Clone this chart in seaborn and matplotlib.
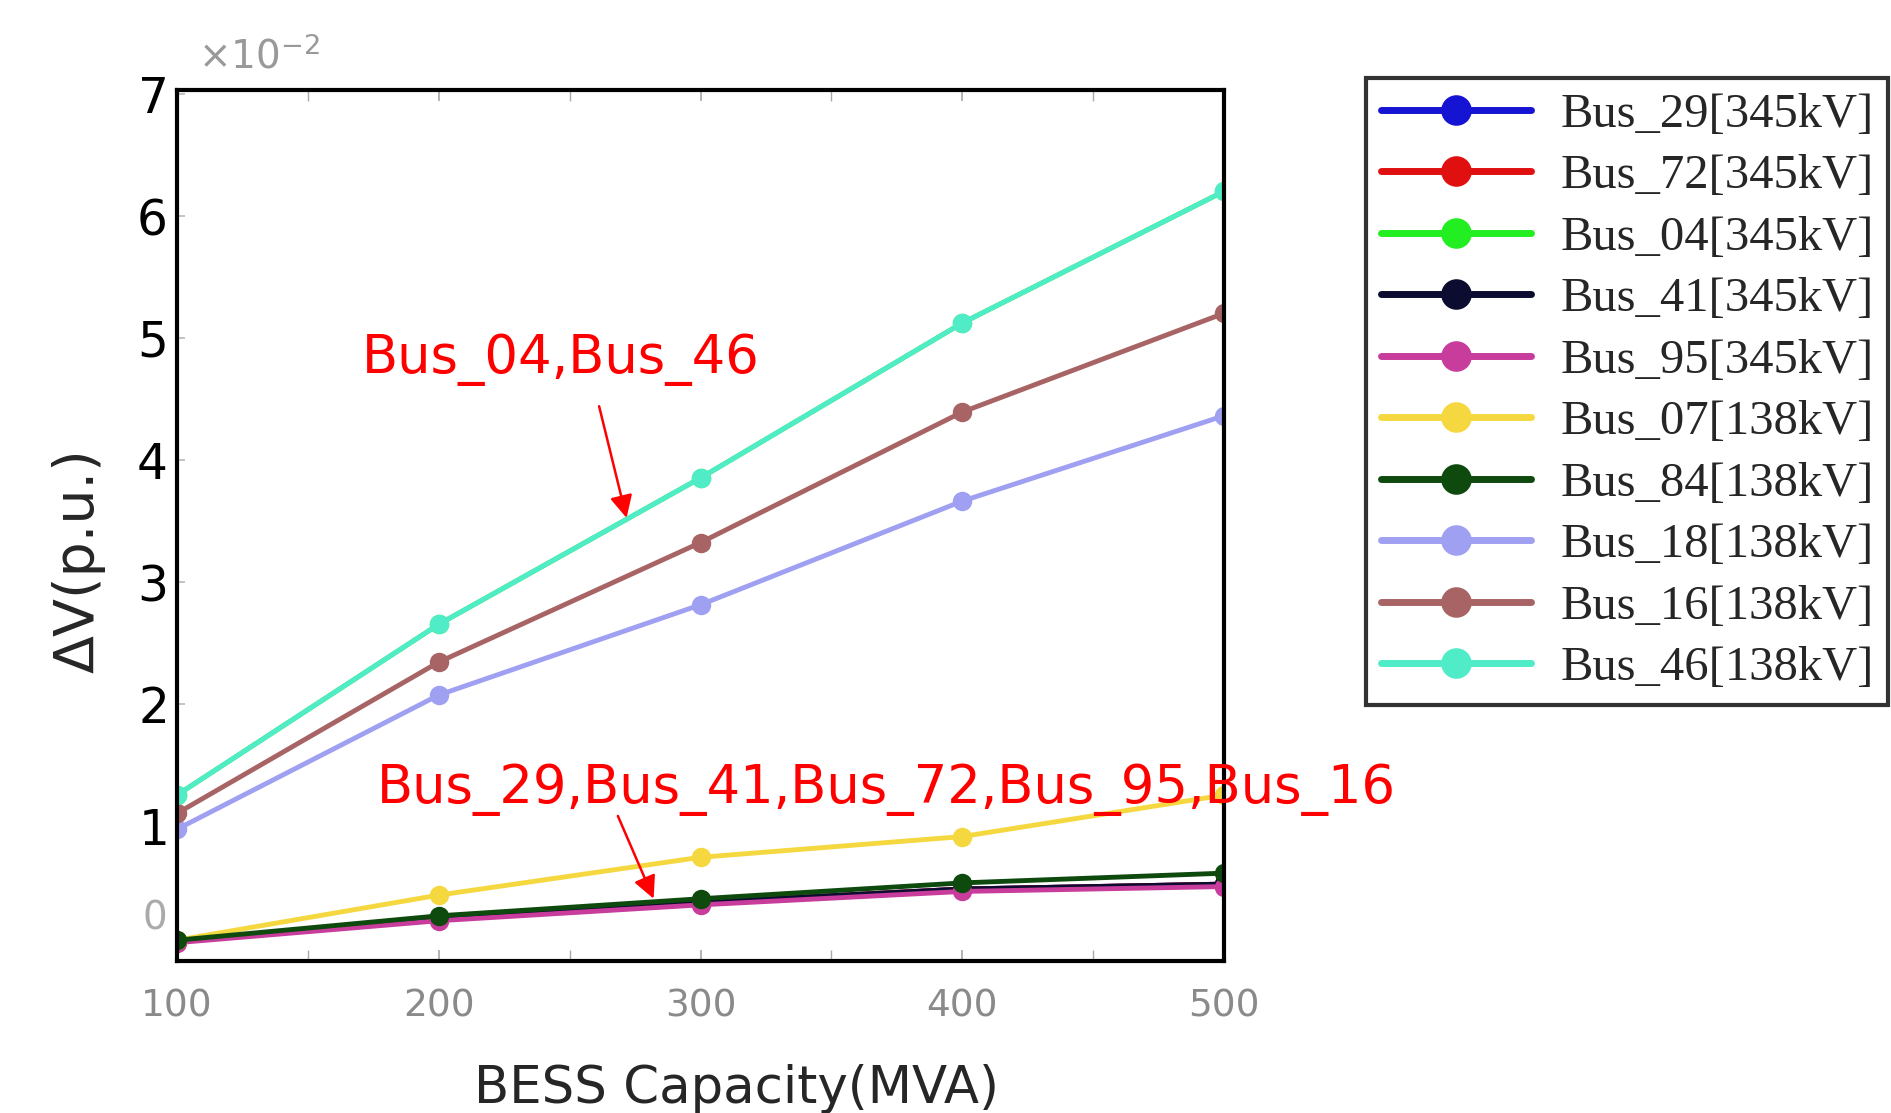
import numpy as np
import pandas as pd
import matplotlib
matplotlib.use("Agg")
import matplotlib.pyplot as plt
import matplotlib.transforms as mtransforms
import seaborn as sns
from matplotlib.ticker import ScalarFormatter, MultipleLocator

# -----------------------------
# Data (delta V in p.u., x10^-2)
# -----------------------------
capacity = [100, 200, 300, 400, 500]

bus_29 = [0.05, 0.24, 0.37, 0.48, 0.52]
bus_72 = [0.05, 0.24, 0.37, 0.48, 0.52]
bus_04 = [1.25, 2.65, 3.85, 5.12, 6.20]
bus_41 = [0.05, 0.24, 0.37, 0.48, 0.52]
bus_95 = [0.04, 0.22, 0.35, 0.46, 0.50]
bus_07 = [0.06, 0.43, 0.74, 0.91, 1.25]
bus_84 = [0.06, 0.26, 0.40, 0.53, 0.61]
bus_18 = [0.97, 2.07, 2.81, 3.66, 4.36]
bus_16 = [1.10, 2.34, 3.32, 4.39, 5.20]
bus_46 = [1.25, 2.65, 3.85, 5.12, 6.20]

labels = ["Bus_29[345kV]", "Bus_72[345kV]", "Bus_04[345kV]", "Bus_41[345kV]",
          "Bus_95[345kV]", "Bus_07[138kV]", "Bus_84[138kV]", "Bus_18[138kV]",
          "Bus_16[138kV]", "Bus_46[138kV]"]
series = [bus_29, bus_72, bus_04, bus_41, bus_95, bus_07, bus_84, bus_18, bus_16, bus_46]
colors = ["#1414d2", "#e01010", "#22ee22", "#0c0c30", "#c83c9c",
          "#f5d840", "#0e4a0e", "#a0a0f2", "#a86464", "#50ecc8"]

rows = []
for lab, vals in zip(labels, series):
    for c, v in zip(capacity, vals):
        rows.append({"capacity": c, "dv": v * 1e-2, "bus": lab})
df = pd.DataFrame(rows)

# -----------------------------
# Plot
# -----------------------------
sns.set_theme(style="white")
plt.rcParams["font.family"] = ["DejaVu Sans"]

fig = plt.figure(figsize=(18.91, 11.13), dpi=100)
ax = fig.add_axes([0.0936, 0.1366, 0.5537, 0.7825])

sns.lineplot(
    data=df, x="capacity", y="dv", hue="bus",
    hue_order=labels, palette=dict(zip(labels, colors)),
    marker="o", markersize=12, markeredgewidth=2,
    linewidth=3.5, ax=ax, legend=True
)
for ln in ax.lines:
    ln.set_markeredgecolor(ln.get_color())

ax.set_xlim(100, 500)
ax.set_ylim(-0.0011, 0.0703)
ax.xaxis.set_major_locator(MultipleLocator(100))
ax.xaxis.set_minor_locator(MultipleLocator(50))
ax.yaxis.set_major_locator(MultipleLocator(0.01))

fmt = ScalarFormatter(useMathText=True)
fmt.set_powerlimits((0, 0))
ax.yaxis.set_major_formatter(fmt)
ax.yaxis.get_offset_text().set_visible(False)
ax.text(0.02, 1.015, r"$\times10^{-2}$", transform=ax.transAxes,
        color="#999999", fontsize=28, ha="left", va="bottom")

ax.tick_params(axis="y", direction="in", length=6, color="#bbbbbb",
               labelsize=35, labelcolor="black", pad=8, left=True)
ax.tick_params(axis="x", which="both", direction="in", length=8, color="#aaaaaa",
               labelsize=27, labelcolor="#8a8a8a", pad=20, bottom=True, top=True)

# faint, slightly raised zero label as in the original
zero_tick = ax.yaxis.get_major_ticks()[1]
zero_tick.label1.set(color="#aaaaaa", fontsize=28)
zero_tick.label1.set_transform(
    zero_tick.label1.get_transform()
    + mtransforms.ScaledTranslation(0, 0.34, fig.dpi_scale_trans))

for s in ax.spines.values():
    s.set_color("black")
    s.set_linewidth(3)

ax.set_xlabel("BESS Capacity(MVA)", fontsize=37)
ax.xaxis.set_label_coords(0.534, -0.118)
ax.set_ylabel("ΔV(p.u.)", fontsize=40)
ax.yaxis.set_label_coords(-0.068, 0.46)

# -----------------------------
# Annotations
# -----------------------------
ax.text(246.5, 0.0482, "Bus_04,Bus_46", color="red", fontsize=38,
        ha="center", va="center")
ax.annotate("", xy=(272, 0.035), xytext=(261, 0.0446),
            arrowprops=dict(arrowstyle="-|>", color="red", lw=1.8, mutation_scale=34))

ax.text(371, 0.0129, "Bus_29,Bus_41,Bus_72,Bus_95,Bus_16", color="red", fontsize=38,
        ha="center", va="center", clip_on=False)
ax.annotate("", xy=(282.5, 0.0038), xytext=(268, 0.011),
            arrowprops=dict(arrowstyle="-|>", color="red", lw=1.8, mutation_scale=34))

# -----------------------------
# Legend
# -----------------------------
handles, labs = ax.get_legend_handles_labels()
ax.get_legend().remove()
leg = fig.legend(
    handles, labs, loc="upper left", bbox_to_anchor=(1366 / 1891, 1 - 78 / 1113),
    borderaxespad=0, frameon=True, fancybox=False, edgecolor="black",
    prop={"family": "Liberation Serif", "size": 35},
    handlelength=3.1, handletextpad=0.6, labelspacing=0.36, borderpad=0.3
)
leg.get_frame().set_linewidth(3)
for h in leg.legend_handles:
    h.set_linewidth(5)
    h.set_markersize(19)
    h.set_markeredgewidth(3)
    h.set_markeredgecolor(h.get_color())

fig.savefig("out.png", dpi=100)
